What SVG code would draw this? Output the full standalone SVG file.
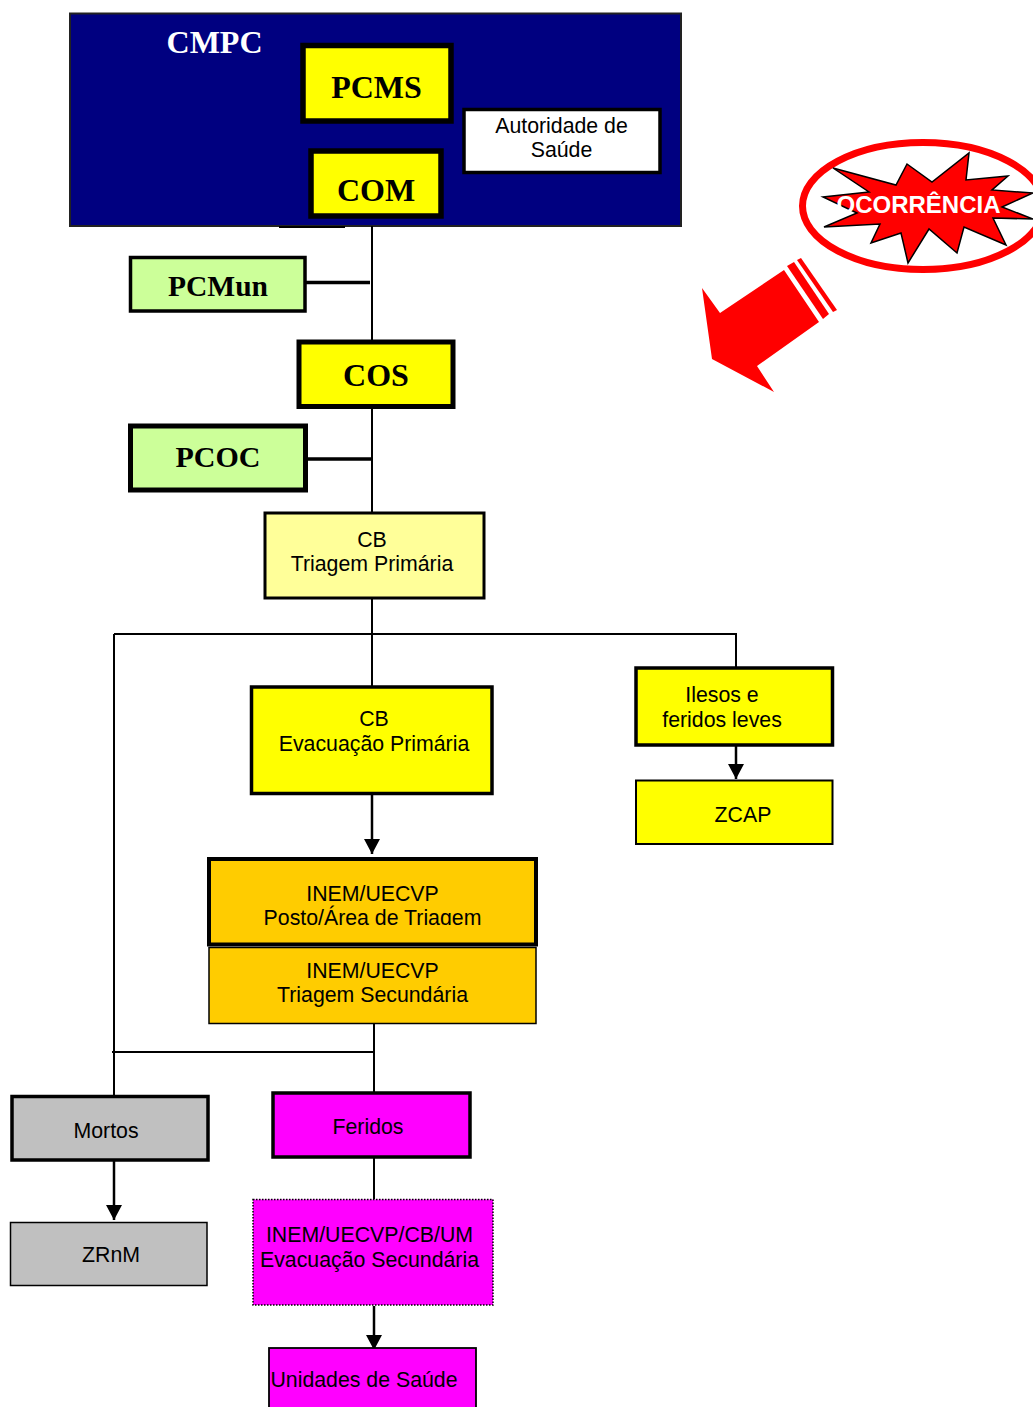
<svg xmlns="http://www.w3.org/2000/svg" width="1033" height="1407" viewBox="0 0 1033 1407">
<style>
.t{font-family:"Liberation Sans",Arial,sans-serif;font-size:21.3px;fill:#000;text-anchor:middle}
.h{font-family:"Liberation Serif","Times New Roman",serif;font-weight:bold;font-size:32px;fill:#000;text-anchor:middle}
.k{fill:none;stroke:#000;stroke-width:2.5}
.y{fill:#ffff00;stroke:#000}
.g{fill:#ccff99;stroke:#000}
.o{fill:#ffcc00;stroke:#000}
.m{fill:#ff00ff;stroke:#000}
.s{fill:#c0c0c0;stroke:#000}
.r{fill:#ff0000}
</style>
<defs>
<marker id="a" markerUnits="userSpaceOnUse" markerWidth="16" markerHeight="16" refX="15" refY="8" orient="auto"><path d="M0 0L15 8L0 16Z" fill="#000"/></marker>
<clipPath id="c1"><rect x="210" y="870" width="326" height="55"/></clipPath>
</defs>

<g id="cmpc">
<rect x="70" y="13.500" width="611" height="212.500" fill="#000080" stroke="#222" stroke-width="2"/>
<rect x="279" y="226" width="66" height="2" fill="#000"/>
<text x="214.500" y="52.500" class="h" style="fill:#fff">CMPC</text>
</g>
<g id="pcms"><rect x="303" y="45.500" width="148" height="75.500" class="y" stroke-width="5.500"/><text x="376.500" y="97.500" class="h">PCMS</text></g>
<g id="com"><rect x="311" y="151" width="130" height="65" class="y" stroke-width="5.500"/><text x="376" y="201" class="h">COM</text></g>
<g id="autoridade"><rect x="464" y="109.500" width="196" height="63" fill="#fff" stroke="#000" stroke-width="3.500"/><text x="561.500" y="133" class="t">Autoridade de</text><text x="561.500" y="157" class="t">Saúde</text></g>

<g id="connectors">
<path class="k" style="stroke-width:2" d="M372 226V686M114 634H736V667M114 634V1096M374 1024V1092M112 1052H374M374 1158V1199"/>
<path class="k" style="stroke-width:3.500" d="M306 282.500H370M308 459H372"/>
<path class="k" d="M372 795V854" marker-end="url(#a)"/>
<path class="k" d="M736 746V779" marker-end="url(#a)"/>
<path class="k" d="M114 1161V1220" marker-end="url(#a)"/>
<path class="k" d="M374 1306V1350" marker-end="url(#a)"/>
</g>

<g id="pcmun"><rect x="130.500" y="257.500" width="174.500" height="53.500" class="g" stroke-width="3.500"/><text x="218" y="296" class="h" style="font-size:29.500px">PCMun</text></g>
<g id="cos"><rect x="299" y="342" width="154" height="64.500" class="y" stroke-width="5"/><text x="376" y="386" class="h">COS</text></g>
<g id="pcoc"><rect x="130.500" y="426" width="175" height="64" class="g" stroke-width="5"/><text x="218" y="467" class="h" style="font-size:30px">PCOC</text></g>
<g id="cb-triagem"><rect x="265" y="513" width="219" height="85" fill="#ffff99" stroke="#000" stroke-width="3"/><text x="372" y="547" class="t">CB</text><text x="372" y="571" class="t">Triagem Primária</text></g>
<g id="cb-evacuacao"><rect x="251.500" y="687" width="240.500" height="106.500" class="y" stroke-width="3.500"/><text x="374" y="726" class="t">CB</text><text x="374" y="751" class="t">Evacuação Primária</text></g>
<g id="ilesos"><rect x="636" y="668" width="196.500" height="77" class="y" stroke-width="3.500"/><text x="722" y="702" class="t">Ilesos e</text><text x="722" y="727" class="t">feridos leves</text></g>
<g id="zcap"><rect x="636" y="780.500" width="196.500" height="63.500" class="y" stroke-width="2"/><text x="743" y="822" class="t">ZCAP</text></g>
<g id="inem-posto"><rect x="209" y="859" width="327" height="85.500" class="o" stroke-width="4"/><g clip-path="url(#c1)"><text x="372.500" y="901" class="t">INEM/UECVP</text><text x="372.500" y="925" class="t">Posto/Área de Triagem</text></g></g>
<g id="inem-triagem"><rect x="209" y="947.500" width="327" height="76" class="o" stroke-width="1.500"/><text x="372.500" y="978" class="t">INEM/UECVP</text><text x="372.500" y="1002" class="t">Triagem Secundária</text></g>
<g id="mortos"><rect x="12" y="1096.500" width="196" height="63.500" class="s" stroke-width="3.500"/><text x="106" y="1138" class="t">Mortos</text></g>
<g id="zrnm"><rect x="10.500" y="1222.500" width="196.500" height="63" class="s" stroke-width="1.500"/><text x="111" y="1262" class="t">ZRnM</text></g>
<g id="feridos"><rect x="273" y="1093" width="197" height="64" class="m" stroke-width="3.500"/><text x="368" y="1134" class="t">Feridos</text></g>
<g id="inem-evacuacao"><rect x="253" y="1199.500" width="240" height="105.500" class="m" stroke-width="1.500" stroke-dasharray="1.500 1.500"/><text x="369.500" y="1242" class="t">INEM/UECVP/CB/UM</text><text x="369.500" y="1267" class="t">Evacuação Secundária</text></g>
<g id="unidades"><rect x="269" y="1348" width="207" height="70" class="m" stroke-width="1.800"/><text x="364" y="1387" class="t">Unidades de Saúde</text></g>

<g id="ocorrencia">
<ellipse cx="923" cy="206" rx="120.500" ry="63.500" fill="#fff" stroke="#ff0000" stroke-width="7"/>
<polygon class="r" stroke="#000" stroke-width="1.500" points="833,168 896,185 907,164 932,182 969,153 966,180 1008,176 992,190 1033,193 1002,207 1033,219 993,218 1006,245 964,227 957,253 929,229 908,263 901,233 871,243 880,224 824,227 857,213 823,197 869,192"/>
<text x="918.500" y="213" font-family="'Liberation Sans',Arial,sans-serif" font-weight="bold" font-size="24" fill="#fff" text-anchor="middle">OCORRÊNCIA</text>
</g>
<g id="seta">
<polygon class="r" points="702,288 720,313 784,270 819,322 757,366 774,392 712,359"/>
<polygon class="r" points="787,266 794,262 829,314 823,319"/>
<polygon class="r" points="797,260 801,258 837,310 833,312"/>
</g>
</svg>
